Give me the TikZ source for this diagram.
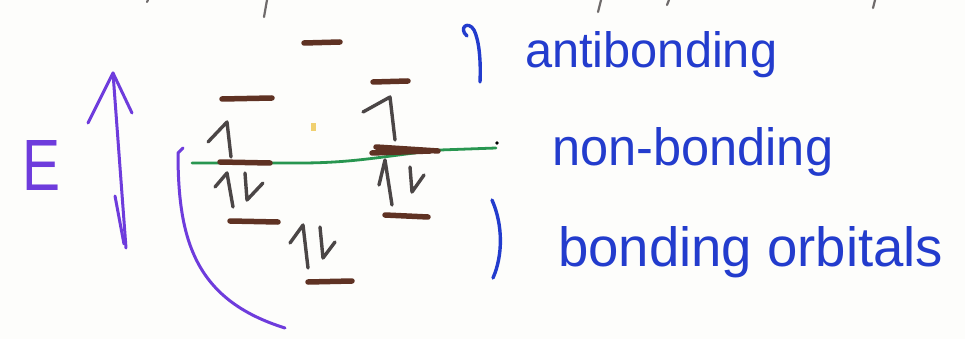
\documentclass[tikz,border=0pt]{standalone}
\usepackage{fontspec}
\setmainfont{Liberation Sans}
\definecolor{inkblue}{RGB}{35,60,205}
\definecolor{inkpurple}{RGB}{110,60,220}
\definecolor{inkbrown}{RGB}{95,50,35}
\definecolor{inkgray}{RGB}{75,70,70}
\definecolor{inkgreen}{RGB}{40,150,80}
\definecolor{paper}{RGB}{253,253,251}
\definecolor{speck}{RGB}{240,208,112}
\tikzset{
  level/.style={line width=5.5pt, color=inkbrown, line cap=round},
  electron/.style={line width=3.4pt, color=inkgray, line cap=round, line join=round},
  purpleink/.style={line width=3pt, color=inkpurple, line cap=round, line join=round},
  blueink/.style={line width=3.4pt, color=inkblue, line cap=round, line join=round},
  label/.style={inner sep=0pt, anchor=base west, text=inkblue},
  scrap/.style={line width=2.2pt, color=inkgray!80, line cap=round}
}
\begin{document}
\begin{tikzpicture}[x=1pt,y=-1pt]
\fill[paper] (0,0) rectangle (965,339);
\useasboundingbox (0,0) rectangle (965,339);
% fragments of writing cut by the top edge
\draw[scrap] (148,0) -- (147,2);
\draw[scrap] (267,0) -- (264,17);
\draw[scrap] (601,0) -- (598,12);
\draw[scrap] (669,0) -- (667,5);
\draw[scrap] (875,0) -- (873,8);
% energy axis
\node[label, text=inkpurple, anchor=north west] (E) at (22,140) {\resizebox{38pt}{50pt}{E}};
\coordinate (atop) at (113,73);
\coordinate (abot) at (126,248);
\draw[purpleink] (atop) -- (abot);
\draw[purpleink] (88,123) -- (atop) -- (132,113);
\draw[purpleink] (115,196) -- (124,244);
% purple arc
\draw[purpleink] (183,148) -- (178,153) .. controls (178,240) and (195,300) .. (285,328);
% green non-bonding line
\coordinate (gl) at (192,163);
\coordinate (gr) at (496,148);
\draw[line width=2.8pt, color=inkgreen, line cap=round] (gl) -- (300,163) to[out=0,in=186] (440,150) -- (gr);
\fill[black] (497,143) circle (1.8pt);
% yellow speck
\fill[speck] (311,123) rectangle (316,131);
% levels
\draw[level] (304,43) -- (340,42);
\draw[level] (222,99) -- (272,98);
\draw[level] (373,82) -- (408,81);
\draw[level] (220,162) -- (270,163);
\draw[level] (376,147) -- (438,151);
\draw[level] (372,153) -- (430,151);
\draw[level] (230,221) -- (278,222);
\draw[level] (385,215) -- (428,217);
\draw[level] (308,282) -- (352,281);
% electrons
\draw[electron] (208,142) -- (227,122) -- (231,157);
\draw[electron] (363,112) -- (390,97) -- (395,140);
\draw[electron] (215,187) -- (227,173) -- (233,207);
\draw[electron] (245,173) -- (247,200) -- (263,183);
\draw[electron] (379,185) -- (385,160) -- (392,205);
\draw[electron] (410,167) -- (412,192) -- (424,175);
\draw[electron] (290,243) -- (303,225) -- (308,268);
\draw[electron] (320,227) -- (323,258) -- (335,242);
% brackets
\draw[blueink] (467,36) .. controls (458,28) and (468,20) .. (474,30) .. controls (479,40) and (481,60) .. (480,82);
\draw[blueink] (492,200) .. controls (503,225) and (503,255) .. (493,278);
% labels
\node[label] (anti) at (525,68) {\resizebox{252pt}{36pt}{antibonding}};
\node[label] (non) at (552,166) {\resizebox{281pt}{38pt}{non-bonding}};
\node[label] (bond) at (558,266) {\resizebox{385pt}{40pt}{bonding orbitals}};
\end{tikzpicture}
\end{document}
